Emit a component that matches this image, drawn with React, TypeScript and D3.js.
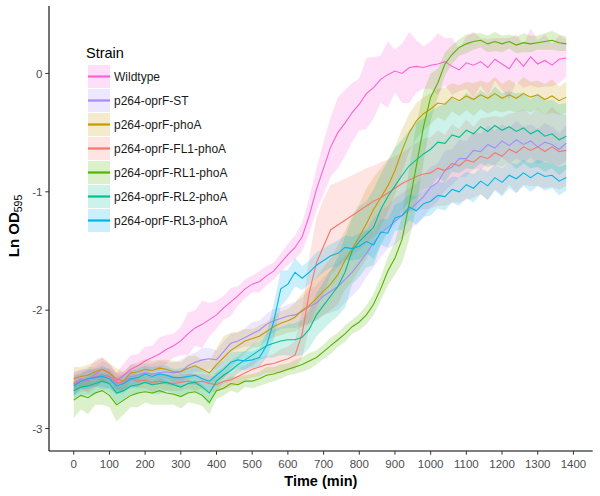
import React from 'react';
import * as d3 from 'd3';

const TIMES = [0, 20, 40, 60, 80, 100, 120, 140, 160, 180, 200, 220, 240, 260, 280, 300, 320, 340, 360, 380,
  400, 420, 440, 460, 480, 500, 520, 540, 560, 580, 600, 620, 640, 660, 680, 700, 720, 740, 760, 780,
  800, 820, 840, 860, 880, 900, 920, 940, 960, 980, 1000, 1020, 1040, 1060, 1080, 1100, 1120, 1140, 1160, 1180,
  1200, 1220, 1240, 1260, 1280, 1300, 1320, 1340, 1360, 1380];

const STRAINS = ['Wildtype', 'p264-oprF-ST', 'p264-oprF-phoA', 'p264-oprF-FL1-phoA', 'p264-oprF-RL1-phoA', 'p264-oprF-RL2-phoA', 'p264-oprF-RL3-phoA'];
const COLORS = ['#FB61D7', '#A58AFF', '#C49A00', '#F8766D', '#53B400', '#00C094', '#00B6EB'];

const X_TICKS = [0, 100, 200, 300, 400, 500, 600, 700, 800, 900, 1000, 1100, 1200, 1300, 1400];
const Y_TICKS = [-3, -2, -1, 0];

const WT_MEAN = [-2.62, -2.58, -2.6, -2.54, -2.5, -2.53, -2.6, -2.55, -2.5, -2.47, -2.43, -2.4, -2.37, -2.33, -2.3, -2.26, -2.2, -2.15, -2.12, -2.08,
  -2.04, -1.98, -1.93, -1.88, -1.82, -1.78, -1.76, -1.71, -1.67, -1.6, -1.53, -1.47, -1.38, -1.2, -0.98, -0.8, -0.62, -0.5, -0.42, -0.33,
  -0.26, -0.17, -0.12, -0.05, -0.01, 0.02, 0.0, 0.05, 0.06, 0.05, 0.07, 0.08, 0.1, 0.06, 0.03, 0.09, 0.07, 0.1, 0.05, 0.12,
  0.08, 0.04, 0.13, 0.06, 0.14, 0.08, 0.11, 0.07, 0.12, 0.13];
const WT_SD = [0.1, 0.08, 0.1, 0.12, 0.1, 0.08, 0.07, 0.1, 0.12, 0.1, 0.12, 0.1, 0.14, 0.12, 0.1,
  0.12, 0.18, 0.15, 0.2, 0.14, 0.12, 0.1, 0.12, 0.08, 0.08, 0.07, 0.09, 0.08, 0.07, 0.08, 0.09,
  0.1, 0.12, 0.15, 0.18, 0.22, 0.25, 0.3, 0.28, 0.25,
  0.22, 0.3, 0.26, 0.2, 0.28, 0.18, 0.25, 0.3, 0.22, 0.18, 0.2, 0.26, 0.2, 0.24, 0.18, 0.22, 0.28, 0.2, 0.24, 0.18, 0.22, 0.26, 0.2, 0.18, 0.24, 0.2, 0.22, 0.18, 0.2, 0.16];

const ST_MEAN = [-2.63, -2.6, -2.58, -2.56, -2.55, -2.56, -2.62, -2.6, -2.56, -2.55, -2.53, -2.54, -2.53, -2.52, -2.53, -2.52, -2.47, -2.44, -2.42, -2.41,
  -2.42, -2.35, -2.28, -2.26, -2.23, -2.2, -2.17, -2.12, -2.09, -2.07, -2.05, -2.04, -2.01, -1.97, -1.94, -1.88, -1.84, -1.8, -1.74, -1.68,
  -1.6, -1.52, -1.43, -1.35, -1.3, -1.25, -1.2, -1.15, -1.1, -1.04, -0.96, -0.92, -0.82, -0.79, -0.72, -0.72, -0.65, -0.66, -0.6, -0.63,
  -0.57, -0.61, -0.56, -0.6, -0.57, -0.62, -0.58, -0.6, -0.64, -0.59];
const ST_SD = [0.1, 0.09, 0.1, 0.08, 0.12, 0.1, 0.09, 0.08, 0.1, 0.09, 0.08, 0.09, 0.1, 0.08, 0.09, 0.1, 0.09, 0.08, 0.1, 0.09,
  0.08, 0.09, 0.08, 0.07, 0.08, 0.1, 0.08, 0.09, 0.1, 0.09, 0.1, 0.11, 0.12, 0.14, 0.15, 0.16, 0.18, 0.2, 0.2, 0.2,
  0.22, 0.2, 0.21, 0.2, 0.18, 0.2, 0.19, 0.18, 0.17, 0.18, 0.17,
  0.16, 0.17, 0.15, 0.16, 0.15, 0.16, 0.15, 0.16, 0.15, 0.14, 0.15, 0.16, 0.15, 0.14, 0.15, 0.16, 0.15, 0.14, 0.15];

const PHOA_MEAN = [-2.58, -2.56, -2.55, -2.52, -2.5, -2.53, -2.58, -2.6, -2.53, -2.52, -2.5, -2.51, -2.49, -2.5, -2.52, -2.52, -2.49, -2.47, -2.5, -2.53,
  -2.46, -2.4, -2.34, -2.3, -2.26, -2.24, -2.22, -2.18, -2.14, -2.11, -2.09, -2.06, -2.0, -1.96, -1.9, -1.84, -1.78, -1.7, -1.58, -1.48,
  -1.38, -1.27, -1.15, -1.05, -0.95, -0.82, -0.65, -0.5, -0.4, -0.34, -0.3, -0.25, -0.26, -0.2, -0.23, -0.19, -0.22, -0.18, -0.21, -0.17,
  -0.21, -0.18, -0.21, -0.17, -0.2, -0.18, -0.22, -0.19, -0.23, -0.2];
const PHOA_SD = [0.1, 0.08, 0.09, 0.08, 0.1, 0.08, 0.09, 0.08, 0.07, 0.08, 0.09, 0.08, 0.07, 0.08, 0.09, 0.08, 0.1, 0.09, 0.08, 0.1,
  0.14, 0.18, 0.15, 0.12, 0.1, 0.08, 0.09, 0.08, 0.09, 0.1, 0.1, 0.12, 0.14, 0.16, 0.18, 0.2, 0.22, 0.25, 0.25, 0.28,
  0.28, 0.3, 0.27, 0.25, 0.22, 0.2, 0.18, 0.16, 0.15, 0.14, 0.13,
  0.12, 0.14, 0.12, 0.13, 0.12, 0.14, 0.12, 0.13, 0.14, 0.12, 0.13, 0.12, 0.14, 0.13, 0.12, 0.13, 0.14, 0.12, 0.13];

const FL1_MEAN = [-2.62, -2.6, -2.58, -2.57, -2.55, -2.56, -2.61, -2.62, -2.58, -2.6, -2.59, -2.61, -2.6, -2.61, -2.62, -2.61, -2.6, -2.61, -2.6, -2.62,
  -2.63, -2.6, -2.59, -2.56, -2.53, -2.5, -2.48, -2.46, -2.45, -2.43, -2.41, -2.38, -2.2, -1.85, -1.6, -1.46, -1.32, -1.28, -1.24, -1.2,
  -1.16, -1.12, -1.08, -1.05, -1.01, -0.97, -0.93, -0.9, -0.87, -0.85, -0.84, -0.8, -0.82, -0.76, -0.78, -0.73, -0.75, -0.7, -0.72, -0.67,
  -0.7, -0.64, -0.67, -0.62, -0.65, -0.62, -0.66, -0.62, -0.66, -0.65];
const FL1_SD = [0.07, 0.06, 0.07, 0.08, 0.06, 0.07, 0.08, 0.06, 0.07, 0.06, 0.07, 0.08, 0.06, 0.07, 0.06, 0.07, 0.06, 0.07, 0.06, 0.07,
  0.06, 0.07, 0.06, 0.07, 0.06, 0.07, 0.08, 0.07, 0.08, 0.1, 0.1, 0.12, 0.2, 0.3, 0.38, 0.4, 0.38, 0.36, 0.35, 0.34,
  0.33, 0.32, 0.3, 0.3, 0.28, 0.27, 0.26, 0.27, 0.28, 0.3, 0.3,
  0.32, 0.3, 0.33, 0.31, 0.34, 0.3, 0.32, 0.35, 0.31, 0.33, 0.3, 0.34, 0.32, 0.3, 0.33, 0.31, 0.34, 0.32, 0.3];

const RL1_MEAN = [-2.76, -2.72, -2.74, -2.7, -2.68, -2.72, -2.8, -2.76, -2.72, -2.7, -2.69, -2.7, -2.68, -2.7, -2.71, -2.73, -2.7, -2.69, -2.72, -2.78,
  -2.68, -2.66, -2.62, -2.63, -2.6, -2.6, -2.58, -2.55, -2.54, -2.52, -2.5, -2.48, -2.46, -2.43, -2.4, -2.35, -2.3, -2.25, -2.2, -2.14,
  -2.1, -2.04, -1.95, -1.82, -1.67, -1.56, -1.4, -1.1, -0.78, -0.45, -0.2, -0.08, 0.08, 0.16, 0.22, 0.25, 0.27, 0.28, 0.25, 0.27,
  0.25, 0.27, 0.24, 0.26, 0.25, 0.26, 0.27, 0.28, 0.26, 0.25];
const RL1_SD = [0.15, 0.12, 0.14, 0.1, 0.12, 0.1, 0.14, 0.12, 0.1, 0.12, 0.09, 0.1, 0.12, 0.1, 0.09, 0.1, 0.08, 0.1, 0.09, 0.1,
  0.07, 0.06, 0.06, 0.07, 0.05, 0.06, 0.06, 0.07, 0.06, 0.06, 0.05, 0.06, 0.06, 0.07, 0.06, 0.06, 0.07, 0.06, 0.07, 0.06,
  0.07, 0.08, 0.09, 0.1, 0.12, 0.14, 0.2, 0.3, 0.35, 0.3, 0.2,
  0.12, 0.1, 0.08, 0.07, 0.08, 0.07, 0.06, 0.07, 0.08, 0.07, 0.06, 0.07, 0.08, 0.07, 0.06, 0.07, 0.08, 0.07, 0.06];

const RL2_MEAN = [-2.68, -2.65, -2.64, -2.62, -2.6, -2.62, -2.7, -2.68, -2.64, -2.63, -2.61, -2.63, -2.62, -2.61, -2.63, -2.65, -2.62, -2.61, -2.65, -2.7,
  -2.6, -2.55, -2.51, -2.46, -2.42, -2.38, -2.34, -2.3, -2.28, -2.26, -2.25, -2.25, -2.23, -2.16, -2.04, -1.96, -1.88, -1.8, -1.68, -1.5,
  -1.42, -1.36, -1.3, -1.15, -1.04, -0.95, -0.86, -0.78, -0.73, -0.68, -0.64, -0.58, -0.59, -0.52, -0.54, -0.48, -0.51, -0.45, -0.49, -0.44,
  -0.48, -0.45, -0.49, -0.46, -0.51, -0.48, -0.53, -0.51, -0.56, -0.53];
const RL2_SD = [0.08, 0.07, 0.08, 0.09, 0.07, 0.08, 0.09, 0.08, 0.07, 0.08, 0.07, 0.08, 0.09, 0.07, 0.08, 0.07, 0.08, 0.07, 0.08, 0.1,
  0.08, 0.07, 0.08, 0.07, 0.08, 0.09, 0.08, 0.1, 0.12, 0.12, 0.13, 0.14, 0.15, 0.16, 0.18, 0.2, 0.22, 0.25, 0.3, 0.28,
  0.3, 0.28, 0.32, 0.3, 0.3, 0.32, 0.3, 0.3, 0.32, 0.3, 0.32,
  0.3, 0.33, 0.31, 0.3, 0.32, 0.3, 0.31, 0.3, 0.33, 0.31, 0.3, 0.32, 0.3, 0.29, 0.31, 0.3, 0.29, 0.3, 0.28];

const RL3_MEAN = [-2.64, -2.6, -2.58, -2.57, -2.56, -2.58, -2.64, -2.62, -2.58, -2.57, -2.54, -2.56, -2.54, -2.55, -2.57, -2.57, -2.56, -2.55, -2.58, -2.6,
  -2.55, -2.5, -2.44, -2.42, -2.43, -2.42, -2.4, -2.3, -2.1, -1.82, -1.78, -1.68, -1.73, -1.68, -1.62, -1.58, -1.54, -1.52, -1.47, -1.48,
  -1.46, -1.42, -1.45, -1.34, -1.35, -1.22, -1.2, -1.13, -1.16, -1.1, -1.08, -1.03, -1.04, -0.98, -1.0, -0.94, -0.97, -0.91, -0.95, -0.88,
  -0.92, -0.86, -0.89, -0.84, -0.88, -0.84, -0.87, -0.86, -0.91, -0.88];
const RL3_SD = [0.08, 0.07, 0.08, 0.07, 0.09, 0.08, 0.07, 0.08, 0.07, 0.08, 0.07, 0.08, 0.07, 0.08, 0.07, 0.08, 0.07, 0.08, 0.07, 0.08,
  0.08, 0.07, 0.08, 0.07, 0.08, 0.07, 0.08, 0.1, 0.15, 0.15, 0.12, 0.12, 0.1, 0.1, 0.11, 0.1, 0.1, 0.11, 0.1, 0.1,
  0.11, 0.1, 0.12, 0.11, 0.12, 0.11, 0.12, 0.11, 0.12, 0.11, 0.12,
  0.11, 0.12, 0.11, 0.12, 0.11, 0.12, 0.11, 0.12, 0.11, 0.12, 0.11, 0.12, 0.11, 0.12, 0.11, 0.12, 0.11, 0.12, 0.11];

const MEANS = [WT_MEAN, ST_MEAN, PHOA_MEAN, FL1_MEAN, RL1_MEAN, RL2_MEAN, RL3_MEAN];
const SDS = [WT_SD, ST_SD, PHOA_SD, FL1_SD, RL1_SD, RL2_SD, RL3_SD];

const FONT = "'Liberation Sans', Arial, sans-serif";

export default function App() {
  const W = 600, H = 496;
  const left = 49, right = 592.7, top = 6, bottom = 451;
  const x = d3.scaleLinear().domain([-69.3, 1454]).range([left, right]);
  const y = d3.scaleLinear().domain([-3.19, 0.57]).range([bottom, top]);

  const series = STRAINS.map((name, i) => ({
    name,
    color: COLORS[i],
    pts: TIMES.map((t, j) => ({ t, m: MEANS[i][j], s: SDS[i][j] })),
  }));

  const area = d3.area<{ t: number; m: number; s: number }>()
    .x(d => x(d.t)).y0(d => y(d.m - d.s)).y1(d => y(d.m + d.s));
  const line = d3.line<{ t: number; m: number; s: number }>()
    .x(d => x(d.t)).y(d => y(d.m));

  const legX = 88, legY = 64.5, keyH = 24, keyW = 22;

  return (
    <svg width={W} height={H} style={{ position: 'absolute', left: 0, top: 0, background: '#fff' }} fontFamily={FONT}>
      <rect x={0} y={0} width={W} height={H} fill="#fff" />
      {series.map(s => (
        <path key={'r' + s.name} d={area(s.pts) || ''} fill={s.color} fillOpacity={0.2} stroke="none" />
      ))}
      {series.map(s => (
        <path key={'l' + s.name} d={line(s.pts) || ''} fill="none" stroke={s.color} strokeWidth={1.1} />
      ))}
      <line x1={left} x2={left} y1={top} y2={bottom} stroke="#000" strokeWidth={1.1} />
      <line x1={left} x2={right} y1={bottom} y2={bottom} stroke="#000" strokeWidth={1.1} />
      {Y_TICKS.map(v => (
        <g key={'y' + v}>
          <line x1={left - 3.7} x2={left} y1={y(v)} y2={y(v)} stroke="#333" strokeWidth={1} />
          <text x={left - 6.5} y={y(v)} dy="0.36em" textAnchor="end" fontSize={11.5} fill="#4D4D4D">{v}</text>
        </g>
      ))}
      {X_TICKS.map(v => (
        <g key={'x' + v}>
          <line x1={x(v)} x2={x(v)} y1={bottom} y2={bottom + 3.7} stroke="#333" strokeWidth={1} />
          <text x={x(v)} y={bottom + 17} textAnchor="middle" fontSize={11.5} fill="#4D4D4D">{v}</text>
        </g>
      ))}
      <text x={(left + right) / 2} y={486} textAnchor="middle" fontSize={14.5} fontWeight="bold" fill="#000">Time (min)</text>
      <text transform={`translate(19,226) rotate(-90)`} textAnchor="middle" fontSize={15} fontWeight="bold" fill="#000">
        Ln OD<tspan fontSize={10.5} fontWeight="normal" dy={3}>595</tspan>
      </text>
      <text x={86} y={58} fontSize={14.5} fill="#000">Strain</text>
      {series.map((s, i) => {
        const ky = legY + i * keyH;
        return (
          <g key={'k' + s.name}>
            <rect x={legX} y={ky + 0.5} width={keyW} height={keyH - 1} fill={s.color} fillOpacity={0.2} />
            <line x1={legX} x2={legX + keyW} y1={ky + keyH / 2} y2={ky + keyH / 2} stroke={s.color} strokeWidth={2.2} />
            <text x={legX + keyW + 4} y={ky + keyH / 2} dy="0.36em" fontSize={12} fill="#1A1A1A">{s.name}</text>
          </g>
        );
      })}
    </svg>
  );
}
